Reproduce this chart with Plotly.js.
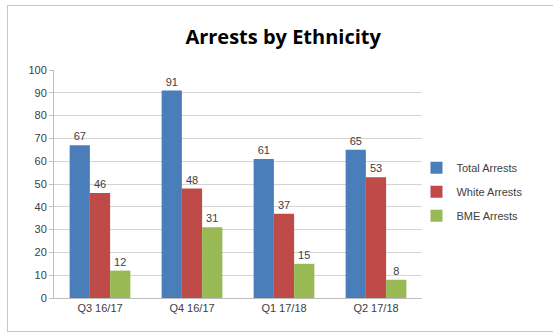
<!DOCTYPE html>
<html><head><meta charset="utf-8">
<script src="https://cdn.plot.ly/plotly-3.0.1.min.js"></script>
<style>
html,body{margin:0;padding:0;background:#fff;}
#frame{position:absolute;left:7px;top:5px;width:560px;height:327px;border:1px solid #c8c8c8;box-sizing:border-box;}
#chart{position:absolute;left:0;top:0;width:553px;height:336px;}
</style></head>
<body>
<div id="frame"></div>
<div id="chart"></div>
<script>
const categories = ["Q3 16/17", "Q4 16/17", "Q1 17/18", "Q2 17/18"];
const totalArrests = [67, 91, 61, 65];
const whiteArrests = [46, 48, 37, 53];
const bmeArrests = [12, 31, 15, 8];
const seriesNames = ["Total Arrests", "White Arrests", "BME Arrests"];
const colors = ["#4A7EBB", "#BE4B48", "#98B954"];
const yTicks = [0,10,20,30,40,50,60,70,80,90,100];

const series = [totalArrests, whiteArrests, bmeArrests];
const data = series.map((vals, i) => ({
  type: 'bar', x: categories, y: vals, name: seriesNames[i], legendgroup: 'g' + i,
  marker: {color: colors[i]},
  text: vals.map(String), textposition: 'outside', cliponaxis: false,
  textfont: {family: 'Liberation Sans, Arial, sans-serif', size: 11, color: '#404040'}
}));

const layout = {
  width: 553, height: 336,
  paper_bgcolor: 'rgba(0,0,0,0)', plot_bgcolor: 'rgba(0,0,0,0)',
  margin: {l: 54, r: 131, t: 70, b: 38},
  title: {text: '<b>Arrests by Ethnicity</b>', x: 0.512, xanchor: 'center', y: 0.89, yanchor: 'middle',
    font: {family: 'Open Sans, Liberation Sans, sans-serif', size: 20, color: '#000'}},
  barmode: 'group', bargap: 0.34, bargroupgap: 0,
  xaxis: {type: 'category', showgrid: false, showline: true, linecolor: '#bfbfbf',
    ticks: '', tickfont: {family: 'Liberation Sans, Arial, sans-serif', size: 11, color: '#404040'}},
  yaxis: {range: [0, 100], tickvals: yTicks, showgrid: true, gridcolor: '#d4d4d4',
    showline: true, linecolor: '#bfbfbf', ticks: 'outside', ticklen: 4, tickcolor: '#bfbfbf',
    zeroline: false, tickfont: {family: 'Liberation Sans, Arial, sans-serif', size: 11, color: '#404040'}},
  legend: {x: 0.985, y: 0.635, xanchor: 'left', yanchor: 'top', tracegroupgap: 5, itemwidth: 30,
    font: {family: 'Liberation Sans, Arial, sans-serif', size: 11, color: '#404040'}},
  showlegend: true
};
Plotly.newPlot('chart', data, layout, {displayModeBar: false, staticPlot: true});
</script>
</body></html>
